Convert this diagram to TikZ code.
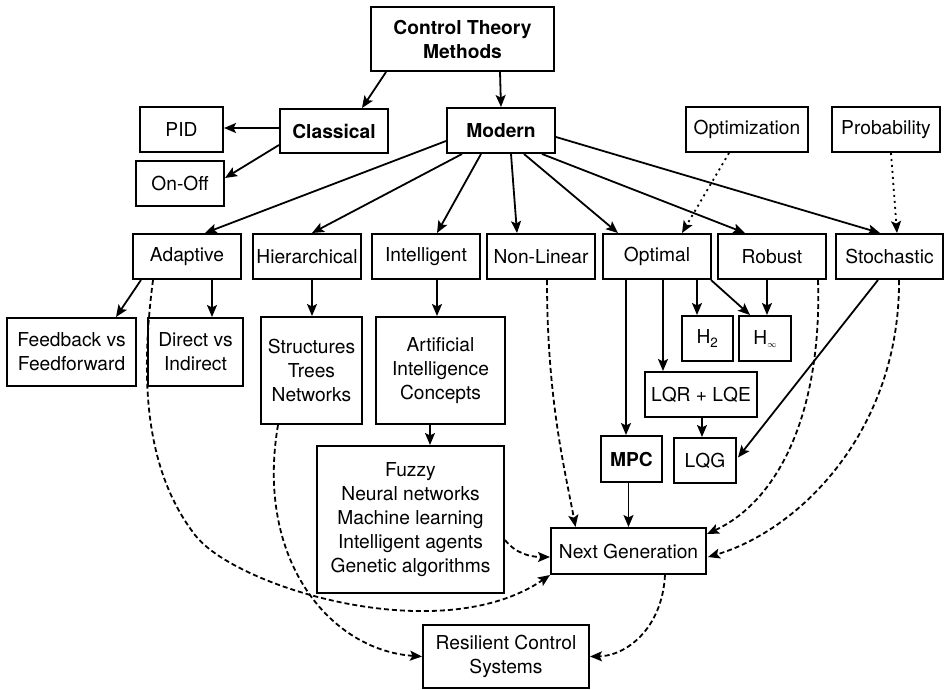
\documentclass[tikz,border=0pt]{standalone}
\usepackage{fontspec}
\setmainfont{TeX Gyre Heros}
\usetikzlibrary{arrows.meta,calc}
\begin{document}
\begin{tikzpicture}[x=1pt,y=-1pt,
  box/.style={draw,line width=2pt,rectangle,inner sep=0pt,align=center,font=\fontsize{19.2}{24}\selectfont},
  arr/.style={line width=1.8pt,-{Stealth[length=12pt,width=10pt,inset=2.5pt]}},
  darr/.style={arr,dash pattern=on 5pt off 3pt},
  dotarr/.style={arr,dash pattern=on 2pt off 4pt}]
\useasboundingbox (0,0) rectangle (945,689);
% nodes
\node[box,minimum width=183pt,minimum height=64pt] (ctm) at (462.5,39) {\bfseries Control Theory\\\bfseries Methods};
\node[box,minimum width=108pt,minimum height=44pt] (classical) at (334,131) {\bfseries Classical};
\node[box,minimum width=83pt,minimum height=45pt] (pid) at (181.5,129.5) {PID};
\node[box,minimum width=88pt,minimum height=45pt] (onoff) at (180,183.5) {On-Off};
\node[box,minimum width=108pt,minimum height=45pt] (modern) at (501,130.5) {\bfseries Modern};
\node[box,minimum width=122pt,minimum height=45pt] (optimization) at (747,129.5) {Optimization};
\node[box,minimum width=108pt,minimum height=45pt] (probability) at (886,129.5) {Probability};
\node[box,minimum width=108pt,minimum height=45pt] (adaptive) at (187,256.5) {Adaptive};
\node[box,minimum width=108pt,minimum height=45pt] (hier) at (307,256.5) {Hierarchical};
\node[box,minimum width=108pt,minimum height=45pt] (intell) at (426,256.5) {Intelligent};
\node[box,minimum width=108pt,minimum height=45pt] (nonlinear) at (541,256.5) {Non-Linear};
\node[box,minimum width=108pt,minimum height=45pt] (optimal) at (657,256.5) {Optimal};
\node[box,minimum width=108pt,minimum height=45pt] (robust) at (772,256.5) {Robust};
\node[box,minimum width=107pt,minimum height=45pt] (stochastic) at (889.5,256.5) {Stochastic};
\node[box,minimum width=129pt,minimum height=68pt] (feedback) at (71.5,352) {Feedback vs\\Feedforward};
\node[box,minimum width=95pt,minimum height=68pt] (direct) at (195.5,352) {Direct vs\\Indirect};
\node[box,minimum width=101pt,minimum height=107pt] (structures) at (311.5,370.5) {Structures\\Trees\\Networks};
\node[box,minimum width=129pt,minimum height=107pt] (aic) at (440.5,370.5) {Artificial\\Intelligence\\Concepts};
\node[box,minimum width=51pt,minimum height=45pt] (h2) at (707.5,338.5) {H\textsubscript{2}};
\node[box,minimum width=52pt,minimum height=45pt] (hinf) at (765,338.5) {H\raisebox{-3pt}{\fontsize{9}{9}\selectfont$\infty$}};
\node[box,minimum width=112pt,minimum height=45pt] (lqrlqe) at (701,394.5) {LQR + LQE};
\node[box,minimum width=61pt,minimum height=46pt] (mpc) at (631.5,459) {\bfseries MPC};
\node[box,minimum width=62pt,minimum height=45pt] (lqg) at (705,460.5) {LQG};
\node[box,minimum width=187pt,minimum height=147pt] (fuzzy) at (410.5,519.5) {Fuzzy\\Neural networks\\Machine learning\\Intelligent agents\\Genetic algorithms};
\node[box,minimum width=155pt,minimum height=46pt] (nextgen) at (628.5,551) {Next Generation};
\node[box,minimum width=166pt,minimum height=63pt] (resilient) at (506,656.5) {Resilient Control\\Systems};
% solid arrows
\draw[arr] ($(ctm.south west)+(16,0)$) -- ($(classical.north west)+(83,0)$);
\draw[arr] ($(ctm.south west)+(130,0)$) -- (modern.north);
\draw[arr] ($(classical.west)+(0,-3)$) -- ($(pid.east)+(0,-1.5)$);
\draw[arr] ($(classical.south west)+(0,-9)$) -- ($(onoff.east)+(0,-5.5)$);
\draw[arr] ($(modern.west)+(0,10.5)$) -- ($(adaptive.north)+(18,0)$);
\draw[arr] ($(modern.south west)+(16,0)$) -- ($(hier.north)+(5,0)$);
\draw[arr] ($(modern.south west)+(35,0)$) -- ($(intell.north)+(11,0)$);
\draw[arr] ($(modern.south west)+(65,0)$) -- ($(nonlinear.north)+(-24,0)$);
\draw[arr] ($(modern.south west)+(78,0)$) -- ($(optimal.north)+(-39,0)$);
\draw[arr] ($(modern.south west)+(96,0)$) -- ($(robust.north)+(-27,0)$);
\draw[arr] ($(modern.east)+(0,6.5)$) -- ($(stochastic.north)+(-9.5,0)$);
\draw[dotarr] ($(optimization.south)+(-18,0)$) -- ($(optimal.north)+(25,0)$);
\draw[dotarr] ($(probability.south)+(5,0)$) -- ($(stochastic.north)+(7.5,0)$);
\draw[arr] ($(adaptive.south)+(-46,0)$) -- ($(feedback.north)+(44.5,0)$);
\draw[arr] ($(adaptive.south)+(25,0)$) -- ($(direct.north)+(16.5,0)$);
\draw[arr] ($(hier.south)+(5,0)$) -- ($(structures.north)+(0.5,0)$);
\draw[arr] ($(intell.south)+(11,0)$) -- ($(aic.north)+(-3.5,0)$);
\draw[arr] ($(aic.south)+(-10.5,0)$) -- ($(fuzzy.north)+(19.5,0)$);
\draw[arr] ($(optimal.south)+(-31,0)$) -- ($(mpc.north)+(-5.5,0)$);
\draw[arr] ($(optimal.south)+(6,0)$) -- ($(lqrlqe.north)+(-38,0)$);
\draw[arr] ($(optimal.south)+(40,0)$) -- ($(h2.north)+(-10.5,0)$);
\draw[arr] ($(optimal.south east)+(-1,0)$) -- ($(hinf.north)+(-15,0)$);
\draw[arr] ($(robust.south)+(-5,0)$) -- ($(hinf.north)+(2,0)$);
\draw[arr] ($(lqrlqe.south)+(1,0)$) -- ($(lqg.north)+(-3,0)$);
\draw[arr] ($(stochastic.south)+(-11.5,0)$) -- ($(lqg.east)+(1,-3)$);
\draw[arr] ($(mpc.south)+(-3,0)$) -- (nextgen.north);
% dashed curves
\draw[darr] ($(adaptive.south)+(-34,0)$) .. controls (140,380) and (145,470) .. (195,535)
  .. controls (235,587) and (440,650) .. (nextgen.south west);
\draw[darr] ($(structures.south)+(-33.5,0)$) .. controls (255,560) and (330,650) .. (resilient.west);
\draw[darr] ($(nonlinear.south)+(6,0)$) .. controls (547,400) and (565,470) .. ($(nextgen.north)+(-53,0)$);
\draw[darr] ($(fuzzy.east)+(0,20.5)$) .. controls (515,553) and (530,557) .. ($(nextgen.west)+(0,6)$);
\draw[darr] ($(robust.south)+(46,0)$) .. controls (822,410) and (780,500) .. ($(nextgen.north east)+(0,7)$);
\draw[darr] ($(stochastic.south)+(9.5,0)$) .. controls (900,430) and (800,530) .. ($(nextgen.east)+(1,6)$);
\draw[darr] ($(nextgen.south)+(36.5,0)$) .. controls (662,630) and (625,656) .. (resilient.east);
\end{tikzpicture}
\end{document}
